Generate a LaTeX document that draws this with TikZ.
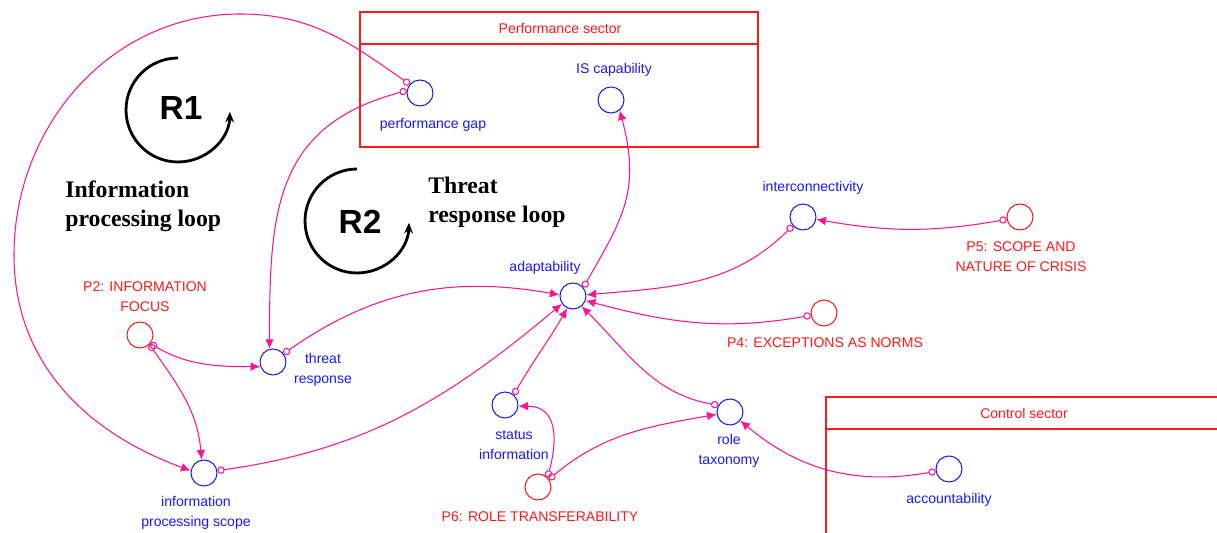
\documentclass[tikz,border=0pt]{standalone}
\usepackage{fontspec}
\setmainfont{Liberation Serif}
\setsansfont{Liberation Sans}
\usepackage{tikz}
\usetikzlibrary{arrows.meta}
\usepackage{xcolor}
\definecolor{linkpink}{RGB}{255,20,147}
\definecolor{varblue}{RGB}{25,25,255}
\definecolor{parred}{RGB}{255,25,25}

\begin{document}
\begin{tikzpicture}[x=0.02cm, y=0.02cm,
    var/.style={circle, draw=varblue, line width=0.6pt, minimum size=0.52cm, inner sep=0pt},
    par/.style={var, draw=parred},
    lab/.style={font=\sffamily\fontsize{8}{11.3}\selectfont, text=varblue, align=center, inner sep=0pt},
    parlab/.style={lab, text=parred},
    link/.style={{Circle[open,length=4.2pt]}-{Latex[length=5.5pt,width=5pt]}, linkpink, line width=0.6pt},
    loopc/.style={-{Stealth[length=6pt,width=5pt]}, line width=1.6pt},
    sector/.style={draw=parred, line width=0.8pt},
    loopname/.style={font=\bfseries\fontsize{13.5}{16.4}\selectfont, align=left, anchor=west, inner sep=0pt},
    loopid/.style={font=\sffamily\bfseries\fontsize{19}{20}\selectfont, inner sep=0pt}
]
    \useasboundingbox (0,0) rectangle (1217,-533);

    \draw[sector] (360,-12) rectangle (758,-147);
    \draw[sector] (360,-44) -- (758,-44);
    \node[parlab] (perftitle) at (560,-28) {Performance sector};
    \draw[sector] (826,-540) -- (826,-397) -- (1225,-397);
    \draw[sector] (826,-429) -- (1225,-429);
    \node[parlab] (ctrltitle) at (1024,-413) {Control sector};

    \node[loopid] (r1) at (181,-108) {R1};
    \coordinate (r1c) at (178,-110);
    \draw[loopc] (r1c) ++(90:52) arc[start angle=90, end angle=358, radius=1.04cm];
    \node[loopid] (r2) at (360,-222) {R2};
    \coordinate (r2c) at (357,-221);
    \draw[loopc] (r2c) ++(90:52) arc[start angle=90, end angle=358, radius=1.04cm];
    \node[loopname] (loop1) at (65,-206) {Information\\processing loop};
    \node[loopname] (loop2) at (428,-202) {Threat\\response loop};

    \node[var] (pgap) at (420,-93) {};
    \node[lab] (pgaplab) at (433,-125) {performance gap};
    \node[var] (isc) at (611,-100) {};
    \node[lab] (isclab) at (614,-70) {IS capability};
    \node[var] (inter) at (803,-217) {};
    \node[lab] (interlab) at (813,-188) {interconnectivity};
    \node[par] (p5) at (1020,-217) {};
    \node[parlab] (p5lab) at (1021,-257) {P5: SCOPE AND\\NATURE OF CRISIS};
    \node[var] (adapt) at (573,-296) {};
    \node[lab] (adaptlab) at (545,-268) {adaptability};
    \node[par] (p4) at (824,-313) {};
    \node[parlab] (p4lab) at (825,-343) {P4: EXCEPTIONS AS NORMS};
    \node[par] (p2) at (140,-335) {};
    \node[parlab] (p2lab) at (145,-297) {P2: INFORMATION\\FOCUS};
    \node[var] (thr) at (273,-362) {};
    \node[lab] (thrlab) at (323,-370) {threat\\response};
    \node[var] (sta) at (505,-405) {};
    \node[lab] (stalab) at (514,-445) {status\\information};
    \node[var] (rol) at (730,-412) {};
    \node[lab] (rollab) at (729,-451) {role\\taxonomy};
    \node[par] (p6) at (538,-487) {};
    \node[parlab] (p6lab) at (540,-517) {P6: ROLE TRANSFERABILITY};
    \node[var] (ips) at (204,-473) {};
    \node[lab] (ipslab) at (196,-513) {information\\processing scope};
    \node[var] (acc) at (949,-469) {};
    \node[lab] (acclab) at (949,-500) {accountability};

    \draw[link] (pgap.140) to[out=145,in=0] (240,-14) to[out=180,in=90] (14,-255) to[out=-90,in=160] (ips.170);
    \draw[link] (pgap.170) to[out=195,in=90,looseness=1.2] (thr.105);
    \draw[link] (p2.-40) to[out=-30,in=180] (thr.200);
    \draw[link] (p2.-45) to[out=-55,in=95] (ips.100);
    \draw[link] (thr.38) to[out=35,in=170] (adapt.175);
    \draw[link] (ips.10) to[out=8,in=220] (adapt.215);
    \draw[link] (adapt.40) to[out=60,in=-75,looseness=1.15] (isc.-50);
    \draw[link] (inter.220) to[out=225,in=5] (adapt.5);
    \draw[link] (p4.190) to[out=190,in=-15] (adapt.-20);
    \draw[link] (rol.150) to[out=170,in=-45] (adapt.-50);
    \draw[link] (sta.50) to[out=60,in=240] (adapt.245);
    \draw[link] (p6.45) to[out=75,in=0,looseness=1.3] (sta.-5);
    \draw[link] (p6.35) to[out=40,in=190] (rol.190);
    \draw[link] (acc.190) to[out=190,in=-40] (rol.-40);
    \draw[link] (p5.190) to[out=190,in=-10] (inter.-10);
\end{tikzpicture}
\end{document}
